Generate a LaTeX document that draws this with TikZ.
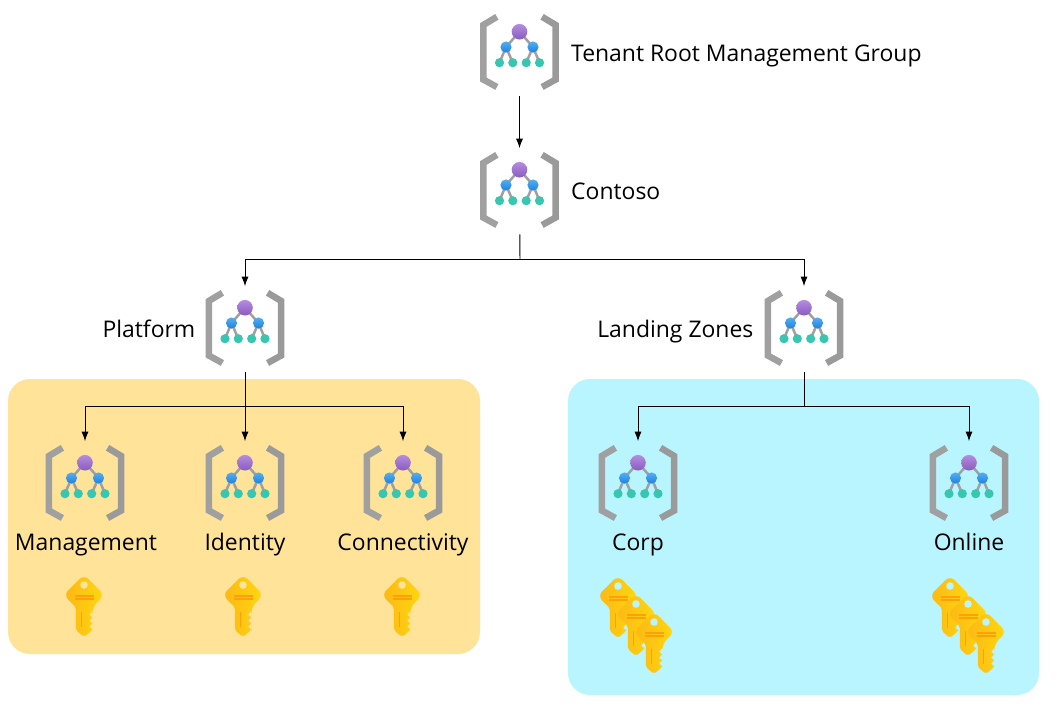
\documentclass[tikz,border=0pt]{standalone}
\usepackage{fontspec}
\setmainfont{Open Sans}
\usetikzlibrary{positioning,arrows.meta}
\definecolor{panelorange}{HTML}{FFE399}
\definecolor{panelblue}{HTML}{B9F5FF}
\definecolor{bracketgray}{HTML}{A0A0A0}
\definecolor{purpletop}{HTML}{B68CE0}
\definecolor{purplebot}{HTML}{885CBE}
\definecolor{bluetop}{HTML}{54AEF0}
\definecolor{bluebot}{HTML}{1E82E1}
\definecolor{tealdot}{HTML}{37C6B0}
\definecolor{keyleft}{HTML}{FDB714}
\definecolor{keymid}{HTML}{FFD60C}
\definecolor{keyright}{HTML}{FFD80F}
\definecolor{keybar}{HTML}{FF9F0A}
\tikzset{
	mgbox/.style = {minimum size = 1.76cm, inner sep = 0},
	lbl/.style = {font = \fontsize{13.05pt}{15pt}\selectfont, inner sep = 0, text height = .34cm, text depth = .1cm},
	sidelbl/.style = {lbl, yshift = -.07cm},
	panel/.style = {rounded corners = .44cm},
	conn/.style = {black, line width = .55pt},
	tip/.style = {conn, -{Latex[length = .19cm, width = .14cm]}, shorten > = -.05cm},
	mgicon/.pic = {
		\draw [bracketgray, line width = .13cm] (-22.6,-35.2) -- (-36.2,-27) -- (-36.2,27.5) -- (-22.6,35);
		\draw [bracketgray!96!black, line width = .13cm] (22.6,-35.2) -- (36.2,-27) -- (36.2,27.5) -- (22.6,35);
		\draw [bracketgray, line width = .05cm] (-20,10.7) -- (-13.5,-5) -- (-6.7,10.7);
		\draw [bracketgray, line width = .05cm] (20,10.7) -- (13.5,-5) -- (6.7,10.7);
		\draw [bracketgray, line width = .05cm] (-13.5,-5) -- (0,-20.3) -- (13.5,-5);
		\shade [top color = purpletop, bottom color = purplebot] (0,-20.3) circle (7.8);
		\foreach \x in {-13.5,13.5}
		{
			\shade [top color = bluetop, bottom color = bluebot] (\x,-5) circle (5.6);
		}
		\foreach \x in {-20,-6.7,6.7,20}
		{
			\fill [tealdot] (\x,10.7) circle (4.6);
		}
	},
	keyicon/.pic = {
		\shade [left color = keyleft, middle color = keymid, right color = keyright]
			[rounded corners = .13cm] (0,-21.5) -- (20.5,-1) -- (8.2,11) [rounded corners = .04cm] -- (8.2,16.5) -- (4.2,18.5) -- (8.2,20.5) -- (8.2,22.5) -- (4.2,24.5) -- (8.2,26.5) -- (8.2,28.5) -- (4.2,30.5) -- (8.2,32.5) -- (8.2,34) -- (0,41) -- (-8.2,34) -- (-8.2,11) [rounded corners = .13cm] -- (-20.5,-1) -- cycle;
		\fill [holecolor] (0,-11) circle (3.8);
		\fill [keybar] (-9.5,-1) rectangle (9.5,.6);
		\fill [keybar] (-9.5,2.4) rectangle (9.5,4);
		\fill [keybar] (-3.1,16) rectangle (-2.1,31);
	}
}
\begin{document}
\begin{tikzpicture}[x = .02cm, y = -.02cm]
	\useasboundingbox (0,0) rectangle (1062,708);
	\fill [panelorange, panel] (8,379) rectangle (480,654);
	\fill [panelblue, panel] (568,379) rectangle (1039,695);

	% management groups
	\foreach \name/\x/\y in {tenant/519.5/52, contoso/519.5/190, platform/245/328, landing/804/328, management/85/483, identity/245/483, connectivity/403/483, corp/638/483, online/969/483}
	{
		\node [mgbox] (\name) at (\x,\y) {};
		\pic at (\name) {mgicon};
	}

	\node [sidelbl, right = .14cm of tenant] (tenantlbl) {Tenant Root Management Group};
	\node [sidelbl, right = .14cm of contoso] (contosolbl) {Contoso};
	\node [sidelbl, left = .1cm of platform] (platformlbl) {Platform};
	\node [sidelbl, left = .12cm of landing] (landinglbl) {Landing Zones};
	\node [lbl, below = .12cm of management, xshift = .02cm] (managementlbl) {Management};
	\node [lbl, below = .12cm of identity] (identitylbl) {Identity};
	\node [lbl, below = .12cm of connectivity] (connectivitylbl) {Connectivity};
	\node [lbl, below = .12cm of corp] (corplbl) {Corp};
	\node [lbl, below = .12cm of online] (onlinelbl) {Online};

	% subscriptions
	\colorlet{holecolor}{panelorange}
	\foreach \x in {84,243,402}
	{
		\pic at (\x,596) {keyicon};
	}
	\colorlet{holecolor}{panelblue}
	\foreach \x in {618,950}
	{
		\pic at (\x,597) {keyicon};
		\pic at (\x+18,615) {keyicon};
		\pic at (\x+36,633) {keyicon};
	}

	% connectors
	\coordinate (contososplit) at (520,259);
	\coordinate (platformsplit) at (245,406);
	\coordinate (landingsplit) at (804,406);
	\draw [tip] (tenant) -- (contoso);
	\draw [conn] (contoso) -- (contososplit);
	\draw [tip] (contososplit) -| (platform);
	\draw [tip] (contososplit) -| (landing);
	\draw [conn] (platform) -- (platformsplit);
	\draw [tip] (platformsplit) -| (management);
	\draw [tip] (platformsplit) -- (identity);
	\draw [tip] (platformsplit) -| (connectivity);
	\draw [conn] (landing) -- (landingsplit);
	\draw [tip] (landingsplit) -| (corp);
	\draw [tip] (landingsplit) -| (online);
\end{tikzpicture}
\end{document}
